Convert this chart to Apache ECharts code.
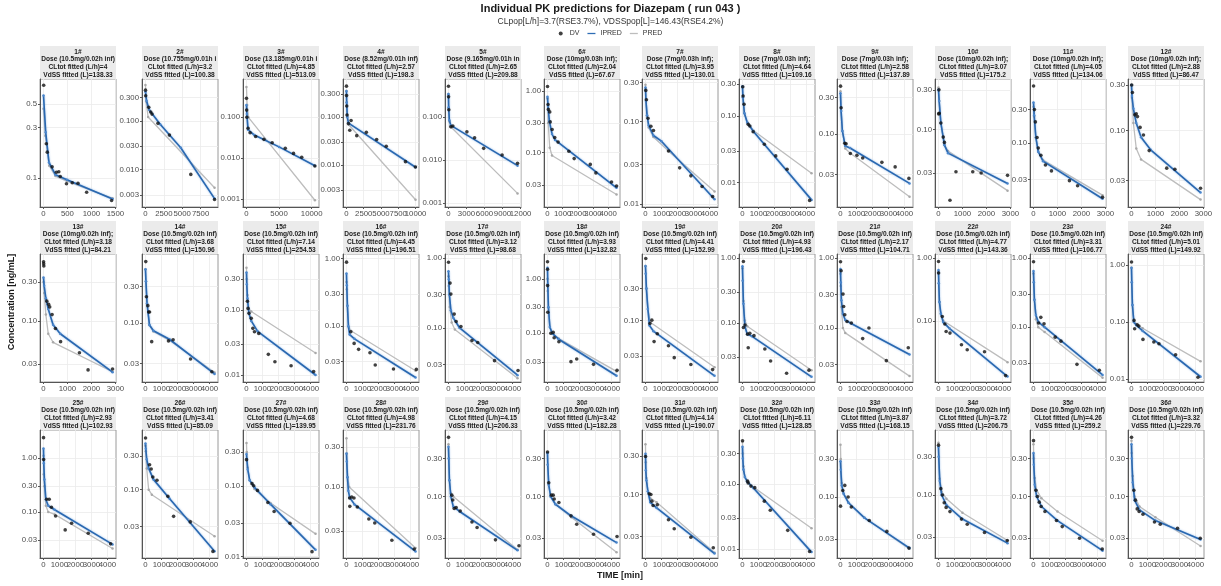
<!DOCTYPE html>
<html><head><meta charset="utf-8">
<script src="https://cdn.jsdelivr.net/npm/echarts@6/dist/echarts.min.js"></script>
<style>html,body{margin:0;padding:0;background:#fff}#c{width:1221px;height:586px}</style>
</head><body><div id="c"></div>
<script>
// ---------------- DATA ----------------
const subjects = ['1#','2#','3#','4#','5#','6#','7#','8#','9#','10#','11#','12#','13#','14#','15#','16#','17#','18#','19#','20#','21#','22#','23#','24#','25#','26#','27#','28#','29#','30#','31#','32#','33#','34#','35#','36#'];
const doses = ['10.5mg/0.02h','10.755mg/0.01h','13.185mg/0.01h','8.52mg/0.01h','9.165mg/0.01h','10mg/0.03h','7mg/0.03h','7mg/0.03h','7mg/0.03h','10mg/0.02h','10mg/0.02h','10mg/0.02h','10mg/0.02h','10.5mg/0.02h','10.5mg/0.02h','10.5mg/0.02h','10.5mg/0.02h','10.5mg/0.02h','10.5mg/0.02h','10.5mg/0.02h','10.5mg/0.02h','10.5mg/0.02h','10.5mg/0.02h','10.5mg/0.02h','10.5mg/0.02h','10.5mg/0.02h','10.5mg/0.02h','10.5mg/0.02h','10.5mg/0.02h','10.5mg/0.02h','10.5mg/0.02h','10.5mg/0.02h','10.5mg/0.02h','10.5mg/0.02h','10.5mg/0.02h','10.5mg/0.02h'];
const clTot = ['4','3.2','4.85','2.57','2.65','2.04','3.95','4.64','2.58','3.07','4.05','2.88','3.18','3.68','7.14','4.45','3.12','3.93','4.41','4.93','2.17','4.77','3.31','5.01','2.93','3.41','4.68','4.98','4.15','3.42','4.14','6.11','3.87','3.72','4.26','3.32'];
const vdss = ['138.33','100.38','513.09','198.3','209.88','67.67','130.01','109.16','137.89','175.2','134.06','86.47','84.21','150.96','254.53','196.51','98.68','132.82','152.99','196.43','104.71','143.36','106.77','149.92','102.93','85.09','139.95','231.76','206.33','182.28','190.07','128.85','168.15','206.75','259.2','229.76'];
// last sampling time per subject (min)
const tLast = [1440,9400,10600,10000,11500,4550,4320,4320,4320,2880,2880,2880,2880,4320,4320,4320,4320,4320,4320,4320,4320,4320,4320,4320,4320,4320,4320,4320,4320,4320,4320,4320,4320,4320,4320,4320];
const xTicksA = [0,1000,2000,3000,4000];
const xTicksB = [0,1000,2000,3000];
const xTicks = [[0,500,1000,1500],[0,2500,5000,7500],[0,5000,10000],[0,2500,5000,7500,10000],[0,3000,6000,9000,12000],xTicksA,xTicksA,xTicksA,xTicksA,xTicksB,xTicksB,xTicksB,
  xTicksB,xTicksA,xTicksA,xTicksA,xTicksA,xTicksA,xTicksA,xTicksA,xTicksA,xTicksA,xTicksA,xTicksA,
  xTicksA,xTicksA,xTicksA,xTicksA,xTicksA,xTicksA,xTicksA,xTicksA,xTicksA,xTicksA,xTicksA,xTicksA];
const yRange = [[0.053,0.86],[0.00168,0.73],[0.00065,0.86],[0.00134,0.62],[0.00082,0.78],[0.0132,1.55],[0.0092,0.33],[0.0043,0.36],[0.0113,0.52],[0.0117,0.405],[0.0122,0.82],[0.0159,0.346],
  [0.018,0.66],[0.0173,0.79],[0.0078,0.73],[0.015,1.16],[0.0168,1.15],[0.0128,2.85],[0.0123,0.98],[0.0125,1.16],[0.0168,1.15],[0.0105,1.17],[0.0161,1.15],[0.0089,1.56],
  [0.014,3.3],[0.0108,0.7],[0.0096,0.61],[0.0143,0.475],[0.017,0.68],[0.017,0.68],[0.0163,0.63],[0.0073,0.69],[0.0173,0.69],[0.0163,0.65],[0.017,0.68],[0.017,0.68]];
const yTicks = [[0.1,0.3,0.5],[0.003,0.01,0.03,0.1,0.3],[0.001,0.01,0.1],[0.003,0.01,0.03,0.1,0.3],[0.001,0.01,0.1],[0.03,0.1,0.3,1],[0.01,0.03,0.1,0.3],[0.01,0.03,0.1,0.3],[0.03,0.1,0.3],[0.03,0.1,0.3],[0.03,0.1,0.3],[0.03,0.1,0.3],
  [0.03,0.1,0.3],[0.03,0.1,0.3],[0.01,0.03,0.1,0.3],[0.03,0.1,0.3,1],[0.03,0.1,0.3,1],[0.03,0.1,0.3,1],[0.03,0.1,0.3],[0.03,0.1,0.3,1],[0.03,0.1,0.3,1],[0.01,0.1,1],[0.03,0.1,0.3,1],[0.01,0.1,1],
  [0.03,0.1,0.3,1],[0.03,0.1,0.3],[0.01,0.03,0.1,0.3],[0.03,0.1,0.3],[0.03,0.1,0.3],[0.03,0.1,0.3],[0.03,0.1,0.3],[0.01,0.03,0.1,0.3],[0.03,0.1,0.3],[0.03,0.1,0.3],[0.03,0.1,0.3],[0.03,0.1,0.3]];

const dvData = [
 [[5,0.75],[60,0.21],[80,0.175],[180,0.127],[270,0.113],[320,0.114],[350,0.103],[480,0.088],[600,0.09],[720,0.089],[900,0.073],[1420,0.061]],
 [[5,0.43],[30,0.33],[447,0.19],[715,0.152],[894,0.138],[1700,0.089],[3260,0.051],[6170,0.0079],[9400,0.0024]],
 [[5,0.29],[30,0.15],[60,0.1],[250,0.054],[560,0.042],[1410,0.034],[2680,0.029],[3940,0.024],[5960,0.0175],[7220,0.0132],[8480,0.0106],[10500,0.0065]],
 [[5,0.44],[15,0.28],[40,0.17],[90,0.11],[290,0.073],[480,0.053],[670,0.085],[1490,0.041],[2880,0.048],[4370,0.034],[5760,0.0247],[8540,0.0118],[9980,0.0091]],
 [[5,0.53],[20,0.3],[60,0.15],[390,0.0605],[725,0.063],[3070,0.046],[4350,0.0335],[5860,0.019],[8930,0.0133],[11500,0.0085]],
 [[5,1.17],[40,0.6],[60,0.5],[150,0.455],[180,0.314],[310,0.236],[480,0.175],[700,0.148],[1410,0.105],[1760,0.08],[2820,0.0645],[3190,0.047],[4220,0.0334],[4550,0.0288]],
 [[20,0.24],[60,0.185],[160,0.11],[340,0.088],[500,0.078],[1440,0.044],[2140,0.0275],[2840,0.022],[3540,0.0163],[4200,0.0123]],
 [[20,0.275],[40,0.2],[100,0.15],[360,0.075],[460,0.071],[670,0.058],[1370,0.0377],[2080,0.0252],[2790,0.0159],[4200,0.0054]],
 [[5,0.42],[40,0.22],[270,0.076],[350,0.075],[620,0.056],[1030,0.053],[1390,0.049],[2590,0.043],[3420,0.0375],[4280,0.0266]],
 [[5,0.41],[20,0.3],[10,0.154],[30,0.157],[100,0.12],[200,0.081],[250,0.07],[480,0.0141],[730,0.031],[1430,0.031],[1780,0.03],[2880,0.0281]],
 [[5,0.65],[40,0.3],[80,0.2],[150,0.12],[200,0.085],[310,0.067],[500,0.0485],[750,0.04],[1500,0.029],[1840,0.0245],[2880,0.0168]],
 [[10,0.3],[40,0.25],[140,0.146],[200,0.15],[250,0.14],[360,0.108],[500,0.09],[740,0.0618],[1470,0.0405],[1810,0.0395],[2880,0.025]],
 [[5,0.53],[10,0.5],[15,0.47],[140,0.175],[215,0.16],[260,0.149],[360,0.12],[500,0.081],[715,0.056],[1500,0.041],[1860,0.0253],[2880,0.026]],
 [[20,0.63],[60,0.22],[150,0.169],[200,0.14],[256,0.14],[390,0.0577],[1440,0.059],[1730,0.061],[2820,0.0344],[4150,0.0235]],
 [[60,0.137],[100,0.106],[160,0.089],[300,0.0745],[400,0.0523],[500,0.0463],[770,0.0437],[1370,0.0208],[1780,0.016],[2790,0.0139],[4200,0.0113]],
 [[5,0.88],[270,0.0825],[480,0.0557],[760,0.0455],[1470,0.0405],[1800,0.0267],[2940,0.0233],[4370,0.023]],
 [[5,0.875],[100,0.44],[150,0.306],[360,0.158],[480,0.124],[780,0.105],[1470,0.066],[1830,0.062],[2880,0.034],[4350,0.0245]],
 [[5,2.06],[8,1.5],[10,0.75],[20,0.243],[210,0.1],[360,0.104],[420,0.083],[715,0.07],[1470,0.0302],[1830,0.0338],[2880,0.027],[4350,0.021]],
 [[20,0.84],[280,0.091],[400,0.102],[540,0.049],[740,0.064],[1440,0.0425],[1800,0.0283],[2840,0.0224],[4200,0.0188]],
 [[60,0.89],[60,0.086],[160,0.094],[320,0.068],[360,0.042],[460,0.07],[720,0.0645],[1400,0.0402],[1760,0.0263],[2760,0.017],[4160,0.019]],
 [[5,0.89],[40,0.66],[160,0.306],[200,0.203],[270,0.155],[410,0.124],[680,0.118],[1390,0.0704],[1780,0.1],[2870,0.034],[4240,0.052]],
 [[5,0.89],[8,0.58],[240,0.117],[400,0.089],[480,0.0675],[720,0.0636],[1440,0.0413],[1800,0.0344],[2880,0.032],[4200,0.0133]],
 [[5,0.89],[320,0.115],[460,0.139],[660,0.112],[1360,0.0718],[1720,0.0629],[2720,0.029],[4120,0.0238]],
 [[5,1.13],[160,0.107],[200,0.0765],[360,0.09],[460,0.085],[720,0.0497],[1400,0.0446],[1720,0.0417],[2760,0.0268],[4160,0.0108]],
 [[5,2.38],[10,0.94],[200,0.172],[360,0.172],[500,0.122],[760,0.084],[1360,0.0464],[1760,0.0617],[2800,0.0403],[4200,0.0256]],
 [[5,0.54],[260,0.226],[360,0.196],[460,0.151],[720,0.136],[1400,0.0805],[1760,0.042],[2800,0.035],[4220,0.0134]],
 [[5,0.233],[350,0.107],[450,0.1],[690,0.086],[1340,0.058],[1730,0.0433],[2720,0.0297],[4100,0.0118]],
 [[200,0.074],[210,0.0588],[330,0.076],[470,0.074],[680,0.0578],[1400,0.0416],[1770,0.0373],[2840,0.0232],[4240,0.0183]],
 [[5,0.55],[210,0.104],[270,0.0906],[360,0.0708],[480,0.073],[735,0.066],[1470,0.048],[1790,0.041],[2940,0.0287],[4410,0.0242]],
 [[5,0.36],[80,0.149],[250,0.104],[360,0.104],[420,0.093],[715,0.084],[1470,0.0573],[1830,0.045],[2880,0.0337],[4350,0.0316]],
 [[5,0.296],[240,0.102],[340,0.1],[400,0.0826],[480,0.073],[740,0.0745],[1440,0.0486],[1800,0.0375],[2840,0.0295],[4240,0.0218]],
 [[5,0.47],[320,0.112],[360,0.105],[530,0.094],[770,0.089],[1370,0.055],[1740,0.0398],[2830,0.0195],[4200,0.0092]],
 [[5,0.077],[145,0.121],[270,0.14],[480,0.1],[680,0.075],[1800,0.051],[2900,0.0372],[4280,0.023]],
 [[5,0.42],[150,0.12],[250,0.1],[360,0.08],[480,0.07],[720,0.062],[1440,0.05],[1800,0.043],[2880,0.034],[4300,0.027]],
 [[5,0.5],[150,0.12],[250,0.1],[360,0.085],[480,0.075],[720,0.065],[1440,0.05],[1800,0.042],[2880,0.03],[4300,0.022]],
 [[5,0.55],[150,0.12],[250,0.09],[360,0.07],[480,0.065],[720,0.06],[1440,0.048],[1800,0.045],[2880,0.04],[4300,0.03]]
];
const ipredData = [
 [[1,0.6],[47,0.27],[115,0.14],[250,0.107],[490,0.096],[1440,0.063]],
 [[1,0.4],[150,0.26],[500,0.17],[2000,0.085],[4800,0.028],[9400,0.0025]],
 [[1,0.2],[60,0.12],[250,0.05],[1200,0.037],[5000,0.019],[10500,0.0066]],
 [[1,0.35],[30,0.2],[120,0.1],[300,0.075],[10000,0.009]],
 [[1,0.35],[30,0.17],[150,0.085],[400,0.065],[11500,0.0075]],
 [[1,0.8],[40,0.55],[130,0.32],[300,0.2],[500,0.16],[4550,0.027]],
 [[1,0.26],[30,0.18],[100,0.12],[200,0.09],[500,0.068],[1000,0.058],[4320,0.0114]],
 [[1,0.28],[30,0.19],[120,0.11],[300,0.08],[700,0.058],[4320,0.0055]],
 [[1,0.34],[40,0.2],[120,0.11],[300,0.07],[600,0.066],[4320,0.0229]],
 [[1,0.3],[30,0.22],[100,0.12],[250,0.065],[400,0.052],[2880,0.0224]],
 [[1,0.38],[30,0.25],[100,0.12],[200,0.075],[400,0.055],[2880,0.016]],
 [[1,0.3],[20,0.23],[80,0.17],[200,0.12],[400,0.085],[800,0.063],[2880,0.0225]],
 [[1,0.34],[30,0.27],[100,0.19],[200,0.14],[400,0.09],[700,0.07],[2880,0.0237]],
 [[1,0.5],[30,0.35],[100,0.18],[250,0.095],[500,0.08],[1500,0.062],[4320,0.022]],
 [[1,0.38],[20,0.25],[60,0.15],[150,0.09],[300,0.068],[700,0.047],[4320,0.01]],
 [[1,0.6],[20,0.4],[60,0.2],[120,0.1],[200,0.075],[500,0.065],[4320,0.0175]],
 [[1,0.65],[20,0.5],[60,0.3],[150,0.18],[300,0.14],[700,0.1],[4320,0.021]],
 [[1,1.6],[20,0.8],[60,0.3],[150,0.13],[300,0.1],[700,0.078],[4320,0.0167]],
 [[1,0.65],[20,0.5],[60,0.3],[150,0.15],[250,0.085],[500,0.07],[4320,0.0152]],
 [[1,0.75],[20,0.45],[60,0.2],[150,0.09],[300,0.068],[600,0.063],[4320,0.015]],
 [[1,0.7],[20,0.45],[60,0.25],[150,0.16],[300,0.13],[700,0.115],[4320,0.0416]],
 [[1,0.65],[20,0.4],[60,0.2],[150,0.13],[300,0.095],[700,0.075],[4320,0.0128]],
 [[1,0.65],[20,0.45],[60,0.25],[150,0.15],[300,0.12],[700,0.1],[4320,0.0204]],
 [[1,0.9],[20,0.5],[60,0.2],[150,0.1],[300,0.088],[700,0.07],[4320,0.011]],
 [[1,1.5],[20,0.8],[60,0.4],[150,0.17],[300,0.13],[700,0.11],[4320,0.025]],
 [[1,0.45],[20,0.38],[80,0.27],[200,0.2],[500,0.14],[1500,0.075],[4320,0.0135]],
 [[1,0.28],[20,0.24],[80,0.17],[200,0.12],[500,0.095],[1500,0.055],[4320,0.0125]],
 [[1,0.25],[20,0.2],[60,0.13],[120,0.09],[200,0.075],[500,0.062],[4320,0.0171]],
 [[1,0.42],[20,0.3],[60,0.16],[150,0.1],[300,0.075],[700,0.065],[4320,0.0212]],
 [[1,0.35],[20,0.25],[80,0.14],[200,0.1],[500,0.08],[1500,0.057],[4320,0.0265]],
 [[1,0.32],[20,0.2],[60,0.15],[150,0.11],[300,0.08],[700,0.068],[4320,0.0185]],
 [[1,0.38],[20,0.25],[60,0.17],[150,0.13],[300,0.11],[700,0.087],[4320,0.009]],
 [[1,0.28],[20,0.22],[80,0.14],[200,0.11],[500,0.085],[1500,0.055],[4320,0.023]],
 [[1,0.4],[20,0.3],[80,0.15],[200,0.1],[500,0.075],[1500,0.05],[4320,0.025]],
 [[1,0.35],[20,0.25],[80,0.14],[200,0.1],[500,0.075],[1500,0.05],[4320,0.021]],
 [[1,0.45],[20,0.3],[80,0.15],[200,0.09],[500,0.068],[1500,0.05],[4320,0.029]]
];
const predData = [
 [[1,0.45],[40,0.25],[120,0.13],[250,0.104],[490,0.093],[1440,0.064]],
 [[1,0.55],[100,0.25],[360,0.12],[9400,0.0042]],
 [[1,0.55],[100,0.2],[300,0.1],[10500,0.00095]],
 [[1,0.35],[30,0.2],[120,0.1],[300,0.07],[10000,0.0019]],
 [[1,0.35],[30,0.17],[150,0.08],[500,0.058],[11500,0.0017]],
 [[1,0.75],[50,0.3],[150,0.12],[300,0.09],[4550,0.021]],
 [[1,0.28],[30,0.19],[100,0.12],[200,0.085],[500,0.065],[1440,0.044],[4320,0.0142]],
 [[1,0.27],[30,0.19],[120,0.11],[300,0.08],[700,0.06],[4320,0.0138]],
 [[1,0.36],[40,0.2],[120,0.11],[300,0.065],[600,0.057],[4320,0.0154]],
 [[1,0.32],[30,0.22],[100,0.12],[250,0.065],[400,0.055],[2880,0.0184]],
 [[1,0.33],[30,0.24],[100,0.12],[200,0.075],[400,0.057],[2880,0.018]],
 [[1,0.3],[20,0.22],[80,0.12],[200,0.065],[400,0.05],[2880,0.019]],
 [[1,0.3],[30,0.22],[100,0.12],[200,0.07],[400,0.055],[2880,0.024]],
 [[1,0.5],[30,0.35],[100,0.18],[250,0.095],[500,0.078],[1500,0.06],[4320,0.023]],
 [[1,0.45],[20,0.3],[60,0.17],[150,0.105],[300,0.095],[4320,0.0218]],
 [[1,0.45],[20,0.35],[60,0.2],[150,0.095],[300,0.085],[4320,0.022]],
 [[1,0.55],[20,0.4],[80,0.2],[200,0.12],[400,0.095],[4320,0.019]],
 [[1,1.0],[20,0.6],[60,0.3],[150,0.13],[300,0.1],[700,0.08],[4320,0.02]],
 [[1,0.65],[20,0.5],[60,0.3],[150,0.15],[300,0.095],[4320,0.0204]],
 [[1,0.7],[20,0.45],[60,0.22],[150,0.11],[300,0.09],[4320,0.019]],
 [[1,0.6],[20,0.4],[60,0.2],[150,0.1],[300,0.085],[4320,0.0204]],
 [[1,0.6],[20,0.4],[60,0.2],[150,0.13],[300,0.1],[4320,0.0218]],
 [[1,0.6],[20,0.45],[60,0.25],[150,0.13],[300,0.1],[700,0.085],[4320,0.0185]],
 [[1,0.9],[20,0.5],[60,0.2],[150,0.1],[300,0.092],[700,0.078],[4320,0.0205]],
 [[1,1.1],[20,0.5],[60,0.3],[150,0.13],[300,0.1],[700,0.09],[4320,0.021]],
 [[1,0.42],[20,0.35],[80,0.2],[200,0.1],[400,0.085],[4320,0.022]],
 [[1,0.4],[20,0.3],[80,0.18],[200,0.12],[500,0.09],[1500,0.057],[4320,0.021]],
 [[1,0.38],[20,0.25],[80,0.13],[170,0.1],[4320,0.0188]],
 [[1,0.45],[20,0.3],[60,0.16],[150,0.11],[300,0.1],[4320,0.0215]],
 [[1,0.35],[20,0.25],[80,0.14],[200,0.1],[500,0.08],[1500,0.055],[4320,0.02]],
 [[1,0.42],[20,0.25],[60,0.16],[150,0.11],[300,0.09],[700,0.08],[4320,0.019]],
 [[1,0.45],[20,0.3],[60,0.19],[150,0.13],[300,0.11],[700,0.09],[4320,0.021]],
 [[1,0.45],[20,0.3],[80,0.15],[200,0.11],[500,0.085],[1500,0.055],[4320,0.0225]],
 [[1,0.45],[20,0.3],[80,0.16],[200,0.11],[500,0.09],[1500,0.06],[4320,0.027]],
 [[1,0.45],[20,0.3],[80,0.17],[200,0.12],[500,0.095],[1500,0.065],[4320,0.028]],
 [[1,0.5],[20,0.35],[80,0.18],[200,0.1],[500,0.075],[1500,0.055],[4320,0.024]]
];

// ---------------- LAYOUT ----------------
const colLeft = [40,142,243,343,445,544,642,739,837,935,1030,1128];
const rowTop = [79,254,430];
const PW = 76, PH = 128, STRIP = 33;
const FONT = '"Liberation Sans", Arial, sans-serif';
const AX = '#555', LBL = '#4d4d4d', GRIDC = '#ebebeb';

function decimals(arr){ return Math.max(...arr.map(t=>{const s=String(t);const i=s.indexOf('.');return i<0?0:s.length-i-1;})); }

const grids=[], xAxes=[], yAxes=[], series=[], graphics=[];
for (let i=0;i<36;i++){
  const r=Math.floor(i/12), c=i%12;
  const left=colLeft[c], top=rowTop[r];
  grids.push({left:left, top:top, width:PW, height:PH, show:true, borderColor:'#9a9a9a', borderWidth:1, backgroundColor:'#fff', containLabel:false});
  const R=tLast[i];
  const xt=xTicks[i];
  const xtEven=xt.filter((v,k)=>k%2===0), xtOdd=xt.filter((v,k)=>k%2===1);
  const xLabelBase={fontSize:7.8,color:LBL,margin:3,fontFamily:FONT,formatter:v=>String(Math.round(v)),hideOverlap:false};
  // main x axis: line, ticks, grid lines, even-position labels
  xAxes.push({type:'value', gridIndex:i, position:'bottom', min:-0.05*R, max:1.05*R,
    axisLine:{show:true,onZero:false,lineStyle:{color:AX,width:1}},
    axisTick:{show:true,length:2,customValues:xt,lineStyle:{color:AX}},
    axisLabel:Object.assign({customValues:xtEven},xLabelBase),
    splitLine:{show:true,lineStyle:{color:GRIDC,width:0.8}}});
  // companion x axis on the same edge carrying the odd-position labels (so crowded labels are all kept)
  xAxes.push({type:'value', gridIndex:i, position:'bottom', offset:0, min:-0.05*R, max:1.05*R,
    axisLine:{show:false,onZero:false}, axisTick:{show:false}, splitLine:{show:false},
    axisLabel:Object.assign({customValues:xtOdd.length?xtOdd:[xt[0]],show:xtOdd.length>0},xLabelBase)});
  const yt=yTicks[i], dec=decimals(yt);
  yAxes.push({type:'log', logBase:10, gridIndex:i, min:yRange[i][0], max:yRange[i][1],
    axisLine:{show:true,onZero:false,lineStyle:{color:AX,width:1}},
    axisTick:{show:true,length:2,customValues:yt,lineStyle:{color:AX}},
    axisLabel:{customValues:yt,fontSize:7.8,color:LBL,margin:3,fontFamily:FONT,formatter:v=>Number(v).toFixed(dec),hideOverlap:false},
    splitLine:{show:true,lineStyle:{color:GRIDC,width:0.8}}});
  const xi=2*i;
  series.push({name:'PRED',type:'line',xAxisIndex:xi,yAxisIndex:i,data:predData[i],symbol:'circle',symbolSize:2.5,showSymbol:true,
    lineStyle:{color:'#bdbdbd',width:1.3},itemStyle:{color:'#a9a9a9'},z:3,silent:true,animation:false,emphasis:{disabled:true}});
  series.push({name:'IPRED',type:'line',xAxisIndex:xi,yAxisIndex:i,data:ipredData[i],symbol:'circle',symbolSize:2.5,showSymbol:true,
    lineStyle:{color:'#2a68b0',width:1.6,shadowColor:'rgba(90,150,220,0.7)',shadowBlur:2},itemStyle:{color:'#4a86cc'},z:4,silent:true,animation:false,emphasis:{disabled:true}});
  series.push({name:'DV',type:'scatter',xAxisIndex:xi,yAxisIndex:i,data:dvData[i],symbol:'circle',symbolSize:3.6,
    itemStyle:{color:'#111'},z:5,silent:true,animation:false,emphasis:{disabled:true}});
  graphics.push({type:'rect',silent:true,shape:{x:left,y:top-STRIP,width:PW,height:STRIP},style:{fill:'#ebebeb'}});
  graphics.push({type:'text',silent:true,x:left+PW/2,y:top-STRIP+2,style:{
    text: subjects[i]+'\nDose ('+doses[i]+' inf);\nCLtot fitted (L/h)='+clTot[i]+'\nVdSS fitted (L)='+vdss[i],
    align:'center',verticalAlign:'top',font:'bold 6.6px '+FONT,lineHeight:7.7,fill:'#1a1a1a',width:PW,overflow:'truncate',ellipsis:''}});
}
graphics.push({type:'text',silent:true,x:620,y:576,style:{text:'TIME [min]',align:'center',verticalAlign:'middle',font:'bold 9px '+FONT,fill:'#1a1a1a'}});
graphics.push({type:'text',silent:true,x:12,y:302,rotation:Math.PI/2,style:{text:'Concentration [ng/mL]',align:'center',verticalAlign:'middle',font:'bold 9px '+FONT,fill:'#1a1a1a'}});

const chart = echarts.init(document.getElementById('c'), null, {renderer:'canvas'});
chart.setOption({
  animation:false,
  backgroundColor:'#fff',
  textStyle:{fontFamily:FONT},
  title:{text:'Individual PK predictions for Diazepam ( run 043 )',subtext:'CLpop[L/h]=3.7(RSE3.7%), VDSSpop[L]=146.43(RSE4.2%)',
    left:'center',top:1,itemGap:3,padding:[2,5,2,5],
    textStyle:{fontSize:11,fontWeight:'bold',color:'#1a1a1a',fontFamily:FONT},
    subtextStyle:{fontSize:8.5,color:'#333',fontFamily:FONT}},
  legend:{top:30,left:'center',itemWidth:8,itemHeight:4,itemGap:8,selectedMode:false,padding:0,
    textStyle:{fontSize:7,color:'#333',fontFamily:FONT},
    data:[{name:'DV',icon:'circle',itemStyle:{color:'#111'}},
          {name:'IPRED',icon:'path://M0,0H10V1.6H0Z',itemStyle:{color:'#2e6db5'}},
          {name:'PRED',icon:'path://M0,0H10V1.6H0Z',itemStyle:{color:'#bdbdbd'}}]},
  grid:grids, xAxis:xAxes, yAxis:yAxes, series:series, graphic:graphics
});
</script></body></html>
